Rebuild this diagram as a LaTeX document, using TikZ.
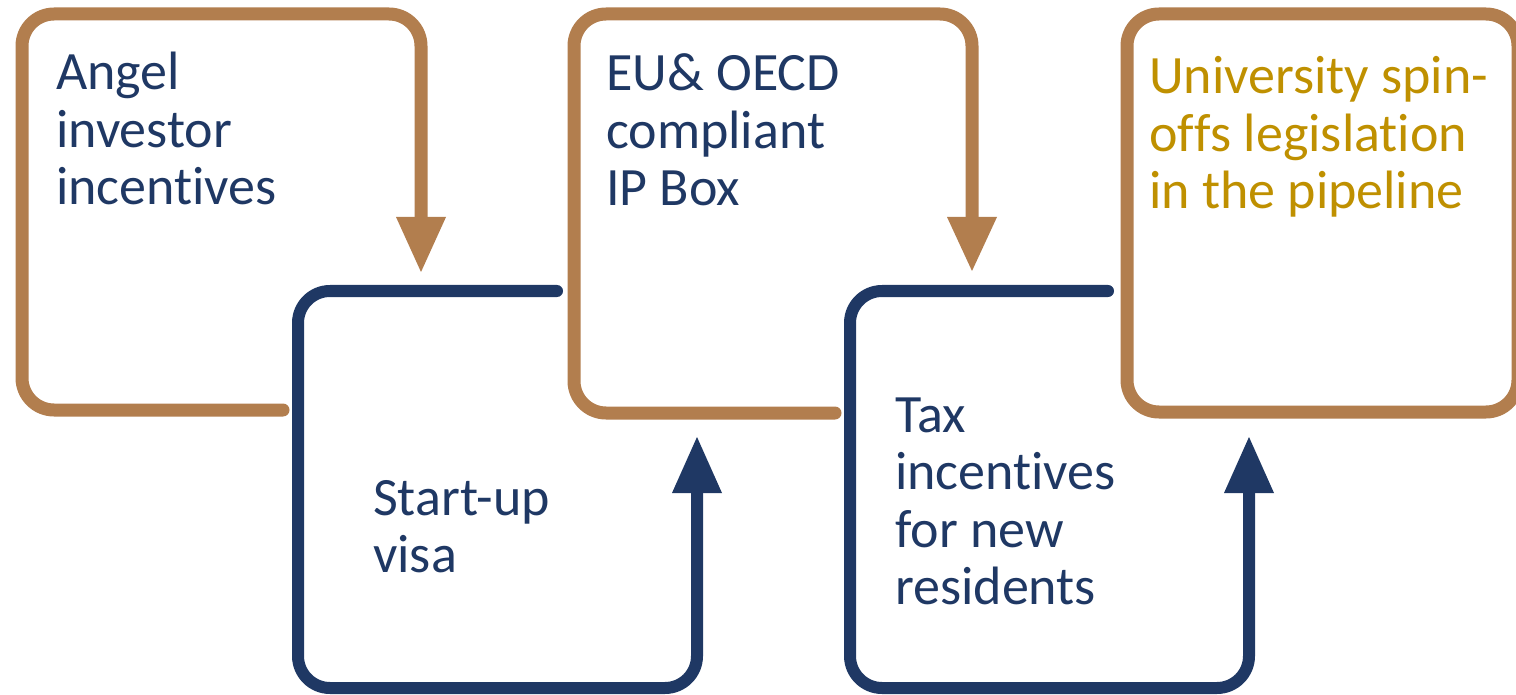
\documentclass[tikz,border=0pt]{standalone}
\usepackage{fontspec}
\setmainfont{Carlito}[Ligatures={NoCommon,NoRequired,NoContextual,NoRare}]
\definecolor{brownc}{RGB}{178,126,78}
\definecolor{navyc}{RGB}{31,56,100}
\definecolor{goldc}{RGB}{191,144,0}
\begin{document}
\begin{tikzpicture}[x=1pt,y=-1pt,
  bline/.style={draw=brownc,line width=13pt,rounded corners=32pt,line cap=round,line join=round},
  nline/.style={draw=navyc,line width=12pt,rounded corners=32pt,line cap=round,line join=round},
  btip/.style={fill=brownc},
  ntip/.style={fill=navyc},
  lbl/.style={anchor=base west,inner sep=0pt,font=\fontsize{54}{57.5}\selectfont,text=navyc}]
\useasboundingbox (0,0) rectangle (1516,695);
\clip (0,0) rectangle (1516,695);
% box 1 (brown)
\coordinate (b1s) at (283,410);
\coordinate (b1e) at (421,220);
\coordinate (b1t) at (421,272);
\draw[bline] (b1s) -- (22,410) -- (22,14) -- (421,14) -- (b1e);
\fill[btip] (b1t) -- (396,217) -- (446,217) -- cycle;
% box 3 (brown)
\coordinate (b3s) at (835,413);
\coordinate (b3e) at (972,220);
\coordinate (b3t) at (972,271);
\draw[bline] (b3s) -- (574,413) -- (574,14) -- (972,14) -- (b3e);
\fill[btip] (b3t) -- (947,217) -- (997,217) -- cycle;
% box 5 (brown)
\draw[bline] (1127,14) rectangle (1518,412);
% box 2 (navy)
\coordinate (n2s) at (557,291);
\coordinate (n2e) at (697,489);
\coordinate (n2t) at (697,437);
\draw[nline] (n2s) -- (298,291) -- (298,688) -- (697,688) -- (n2e);
\fill[ntip] (n2t) -- (672,493) -- (722,493) -- cycle;
% box 4 (navy)
\coordinate (n4s) at (1108,291);
\coordinate (n4e) at (1249,489);
\coordinate (n4t) at (1249,437);
\draw[nline] (n4s) -- (850,291) -- (850,688) -- (1249,688) -- (n4e);
\fill[ntip] (n4t) -- (1224,493) -- (1274,493) -- cycle;
% labels
\node[lbl] (t1) at (56,90) {\vtop{\hbox{Angel}\hbox{investor}\hbox{incent\kern0pt ives}}};
\node[lbl] (t2) at (373,515) {\vtop{\hbox{Start-up}\hbox{visa}}};
\node[lbl] (t3) at (606,91) {\vtop{\hbox{EU\& OECD}\hbox{compliant}\hbox{IP Box}}};
\node[lbl] (t4) at (895,432) {\vtop{\hbox{Tax}\hbox{incent\kern0pt ives}\hbox{for new}\hbox{residents}}};
\node[lbl,text=goldc] (t5) at (1149,94) {\vtop{\hbox{University spin-}\hbox{of\kern0pt f\kern0pt s legislat\kern0pt ion}\hbox{in the pipeline}}};
\end{tikzpicture}
\end{document}
